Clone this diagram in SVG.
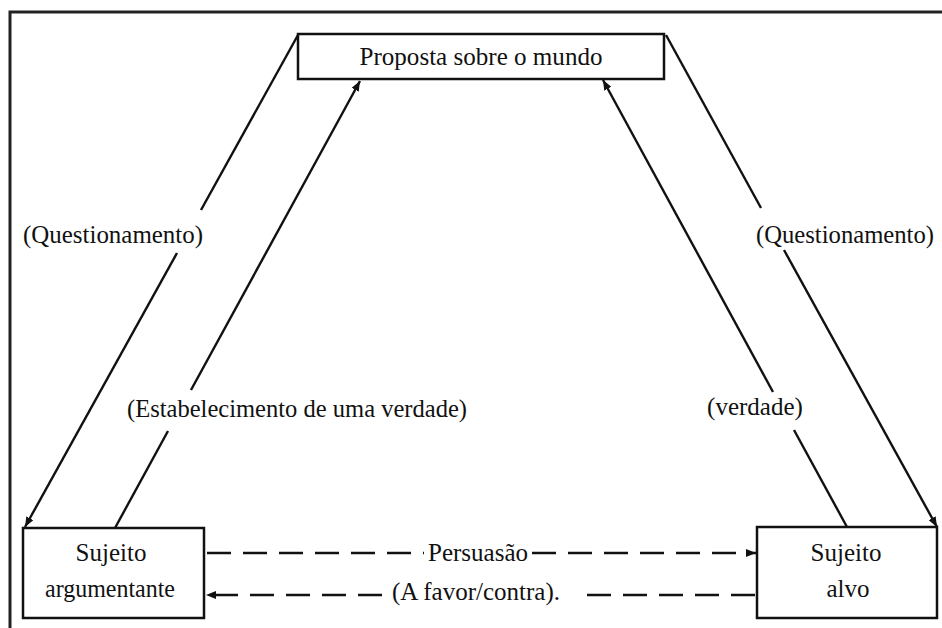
<svg xmlns="http://www.w3.org/2000/svg" width="942" height="628" viewBox="0 0 942 628">
<style>
.box{fill:#fff;stroke:#111;stroke-width:2.5}
.ln{fill:none;stroke:#111;stroke-width:2.4}
.dash{fill:none;stroke:#111;stroke-width:2.6;stroke-dasharray:24 12}
text{font-size:25px;fill:#111;text-anchor:middle}
</style>
<defs>
<marker id="ah" viewBox="0 0 10 8" refX="10" refY="4" markerWidth="10" markerHeight="8" markerUnits="userSpaceOnUse" orient="auto">
<path d="M0,0 L10,4 L0,8 Z" fill="#111"/>
</marker>
</defs>
<rect width="942" height="628" fill="#fff"/>
<rect x="10" y="12" width="960" height="640" fill="none" stroke="#222" stroke-width="3"/>
<g font-family="Liberation Serif, Times New Roman, serif">
<g id="connectors">
<line class="ln" x1="298" y1="35" x2="201" y2="210"/>
<line class="ln" x1="177" y1="253" x2="25" y2="527" marker-end="url(#ah)"/>
<line class="ln" x1="666" y1="35" x2="761" y2="208"/>
<line class="ln" x1="784" y1="250" x2="937" y2="527" marker-end="url(#ah)"/>
<line class="ln" x1="115" y1="528" x2="168" y2="431"/>
<line class="ln" x1="191" y1="390" x2="360" y2="81" marker-end="url(#ah)"/>
<line class="ln" x1="847" y1="527" x2="794" y2="430"/>
<line class="ln" x1="773" y1="392" x2="603" y2="80" marker-end="url(#ah)"/>
<line class="dash" x1="207" y1="553" x2="424" y2="553"/>
<line class="dash" x1="532" y1="553" x2="756" y2="553" marker-end="url(#ah)" stroke-dasharray="24 12 24 12 24 12 24 12 24 12 24 0"/>
<line class="dash" x1="755" y1="595" x2="580" y2="595"/>
<line class="dash" x1="382" y1="595" x2="206" y2="595" marker-end="url(#ah)"/>
<text x="113" y="243" textLength="180" lengthAdjust="spacingAndGlyphs">(Questionamento)</text>
<text x="845" y="243" textLength="178" lengthAdjust="spacingAndGlyphs">(Questionamento)</text>
<text x="297" y="417" textLength="340" lengthAdjust="spacingAndGlyphs">(Estabelecimento de uma verdade)</text>
<text x="755" y="415">(verdade)</text>
<text x="478" y="561">Persuasão</text>
<text x="476" y="600">(A favor/contra).</text>
</g>
<g id="proposta">
<rect class="box" x="298" y="34" width="366" height="45"/>
<text x="481" y="65" textLength="243" lengthAdjust="spacingAndGlyphs">Proposta sobre o mundo</text>
</g>
<g id="sujeito-argumentante">
<rect class="box" x="23" y="528" width="181" height="90"/>
<text x="111" y="561">Sujeito</text>
<text x="110" y="597" textLength="130" lengthAdjust="spacingAndGlyphs">argumentante</text>
</g>
<g id="sujeito-alvo">
<rect class="box" x="757" y="527" width="180" height="91"/>
<text x="846" y="561">Sujeito</text>
<text x="848" y="597">alvo</text>
</g>
</g>
</svg>
